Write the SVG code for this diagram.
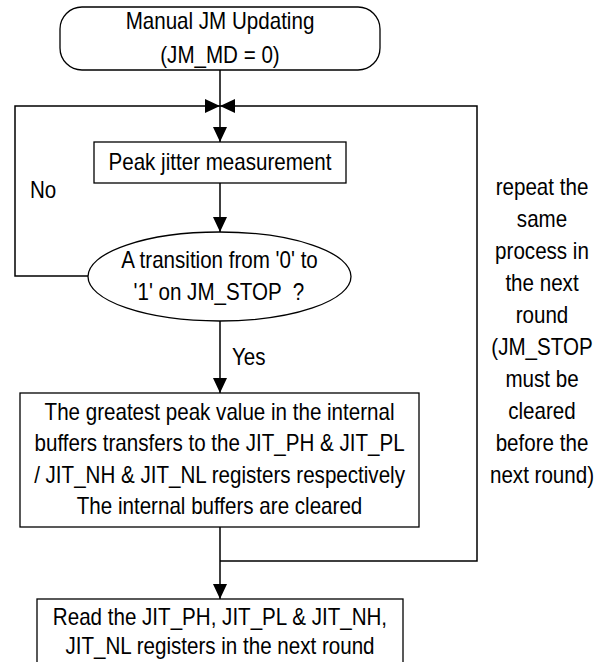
<svg xmlns="http://www.w3.org/2000/svg" width="608" height="662" viewBox="0 0 608 662">
<style>
  .box { fill: #fff; stroke: #000; stroke-width: 1.3; }
  .conn { fill: none; stroke: #000; stroke-width: 1.5; }
  text { font-family: "Liberation Sans", Arial, sans-serif; font-size: 23px; fill: #000; }
  .c { text-anchor: middle; }
</style>
<defs>
  <marker id="arr" markerUnits="userSpaceOnUse" markerWidth="16" markerHeight="14" refX="15" refY="7" orient="auto">
    <path d="M0,0 L15,7 L0,14 z" fill="#000"/>
  </marker>
</defs>
<rect width="608" height="662" fill="#fff"/>
<g id="connectors">
  <path class="conn" d="M220,70 V142" marker-end="url(#arr)"/>
  <path class="conn" d="M88,276 H15 V106 H220" marker-end="url(#arr)"/>
  <path class="conn" d="M220,561 H477 V106 H220" marker-end="url(#arr)"/>
  <path class="conn" d="M220,183 V232" marker-end="url(#arr)"/>
  <path class="conn" d="M220,321 V393" marker-end="url(#arr)"/>
  <path class="conn" d="M220,527 V599" marker-end="url(#arr)"/>
</g>
<g id="start">
  <rect class="box" x="60" y="7" width="320" height="63" rx="22" ry="22"/>
  <text class="c" x="245.8" y="29" transform="scale(0.895,1)">Manual JM Updating</text>
  <text class="c" x="245.8" y="63" transform="scale(0.895,1)">(JM_MD = 0)</text>
</g>
<g id="measure">
  <rect class="box" x="94" y="142" width="252" height="41"/>
  <text class="c" x="245.8" y="170" transform="scale(0.895,1)">Peak jitter measurement</text>
</g>
<g id="decision">
  <ellipse class="box" cx="219.5" cy="276.5" rx="131.5" ry="44.5"/>
  <text class="c" x="245.3" y="268" transform="scale(0.895,1)">A transition from '0' to</text>
  <text class="c" x="244.5" y="300" transform="scale(0.895,1)" xml:space="preserve">'1' on JM_STOP  ?</text>
</g>
<g id="label-no">
  <text x="33.5" y="198" transform="scale(0.895,1)">No</text>
</g>
<g id="label-yes">
  <text x="259.2" y="365" transform="scale(0.895,1)">Yes</text>
</g>
<g id="transfer">
  <rect class="box" x="20" y="393" width="399" height="134"/>
  <text class="c" x="245.3" y="420" transform="scale(0.895,1)">The greatest peak value in the internal</text>
  <text class="c" x="245.3" y="451" transform="scale(0.895,1)">buffers transfers to the JIT_PH &amp; JIT_PL</text>
  <text class="c" x="245.3" y="483" transform="scale(0.895,1)">/ JIT_NH &amp; JIT_NL registers respectively</text>
  <text class="c" x="245.3" y="514" transform="scale(0.895,1)">The internal buffers are cleared</text>
</g>
<g id="read">
  <rect class="box" x="37" y="599" width="366" height="90"/>
  <text class="c" x="245.8" y="625" transform="scale(0.895,1)">Read the JIT_PH, JIT_PL &amp; JIT_NH,</text>
  <text class="c" x="245.8" y="654" transform="scale(0.895,1)">JIT_NL registers in the next round</text>
</g>
<g id="note">
  <text class="c" x="605.6" y="195" transform="scale(0.895,1)">repeat the</text>
  <text class="c" x="605.6" y="227" transform="scale(0.895,1)">same</text>
  <text class="c" x="605.6" y="259" transform="scale(0.895,1)">process in</text>
  <text class="c" x="605.6" y="291" transform="scale(0.895,1)">the next</text>
  <text class="c" x="605.6" y="323" transform="scale(0.895,1)">round</text>
  <text class="c" x="605.6" y="355" transform="scale(0.895,1)">(JM_STOP</text>
  <text class="c" x="605.6" y="387" transform="scale(0.895,1)">must be</text>
  <text class="c" x="605.6" y="419" transform="scale(0.895,1)">cleared</text>
  <text class="c" x="605.6" y="451" transform="scale(0.895,1)">before the</text>
  <text class="c" x="605.6" y="483" transform="scale(0.895,1)">next round)</text>
</g>
</svg>
